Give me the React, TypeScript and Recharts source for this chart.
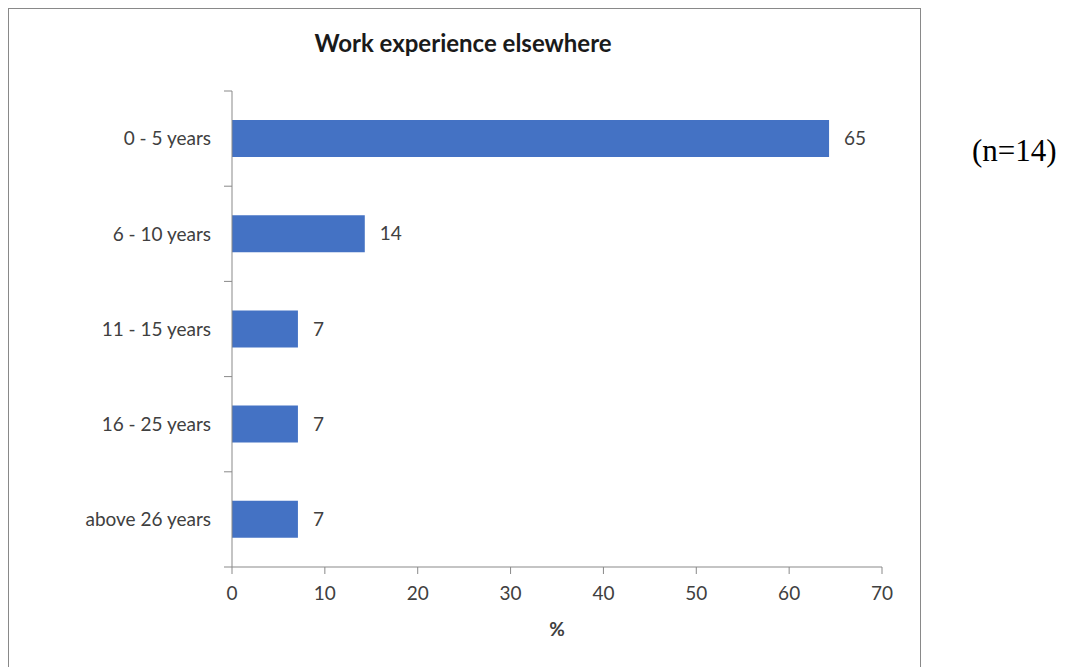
import React from 'react';
import { BarChart, Bar, XAxis, YAxis, LabelList } from 'recharts';

const categories = ['0 - 5 years', '6 - 10 years', '11 - 15 years', '16 - 25 years', 'above 26 years'];
const values = [64.3, 14.3, 7.1, 7.1, 7.1];
const valueLabels = ['65', '14', '7', '7', '7'];
const xTicks = [0, 10, 20, 30, 40, 50, 60, 70];

const data = categories.map((name, i) => ({ name, value: values[i], label: valueLabels[i] }));

const FONT = 'Lato, "Open Sans", sans-serif';
const AXIS = '#898989';
const TXT = '#404040';
const FS = 19;

const CatTick = (props: any) => {
  const { x, y, payload, index, visibleTicksCount, height } = props;
  const band = Number(height) / Number(visibleTicksCount);
  const ok = isFinite(band);
  return (
    <g>
      {ok && <line x1={x - 8} x2={x} y1={y - band / 2} y2={y - band / 2} stroke={AXIS} strokeWidth={1} />}
      {ok && index === visibleTicksCount - 1 && (
        <line x1={x - 8} x2={x} y1={y + band / 2} y2={y + band / 2} stroke={AXIS} strokeWidth={1} />
      )}
      <text x={x - 21} y={y} dy="0.355em" textAnchor="end" fill={TXT} fontSize={FS} fontFamily={FONT}>
        {payload.value}
      </text>
    </g>
  );
};

export default function App() {
  return (
    <div style={{ position: 'relative', width: 1058, height: 659, fontFamily: FONT }}>
      <div
        style={{
          position: 'absolute',
          left: 0,
          top: 0,
          width: 913,
          height: 659,
          borderTop: `1px solid ${AXIS}`,
          borderLeft: `1px solid ${AXIS}`,
          borderRight: `1px solid ${AXIS}`,
          boxSizing: 'border-box',
          zIndex: 5,
          pointerEvents: 'none',
        }}
      />
      <div
        style={{
          position: 'absolute',
          left: 0,
          width: 910,
          top: 20,
          textAlign: 'center',
          fontFamily: FONT,
          fontWeight: 700,
          fontSize: 24,
          color: '#1a1a1a',
          lineHeight: '30px',
          zIndex: 4,
        }}
      >
        Work experience elsewhere
      </div>
      <div
        style={{
          position: 'absolute',
          left: 964,
          top: 125,
          fontFamily: '"Liberation Serif", "Times New Roman", serif',
          fontSize: 31,
          lineHeight: '36px',
          color: '#000',
        }}
      >
        (n=14)
      </div>
      <div style={{ position: 'absolute', left: 0, top: 0 }}>
        <BarChart
          width={913}
          height={659}
          data={data}
          layout="vertical"
          margin={{ top: 83, right: 39, left: 0, bottom: 20 }}
        >
          <XAxis
            type="number"
            domain={[0, 70]}
            ticks={xTicks}
            interval={0}
            height={80}
            stroke={AXIS}
            tickSize={7}
            tickMargin={13}
            tick={{ fill: TXT, fontSize: FS, fontFamily: FONT }}
            label={{ value: '%', position: 'insideBottom', offset: 11, fill: TXT, fontSize: FS, fontWeight: 700, fontFamily: FONT }}
          />
          <YAxis
            type="category"
            dataKey="name"
            width={224}
            stroke={AXIS}
            axisLine={{ stroke: AXIS }}
            tickLine={false}
            tickSize={0}
            tickMargin={0}
            interval={0}
            tick={<CatTick />}
          />
          <Bar dataKey="value" fill="#4472C4" barSize={37} isAnimationActive={false}>
            <LabelList dataKey="label" position="right" offset={15} fill={TXT} fontSize={FS} fontFamily={FONT} />
          </Bar>
        </BarChart>
      </div>
    </div>
  );
}
